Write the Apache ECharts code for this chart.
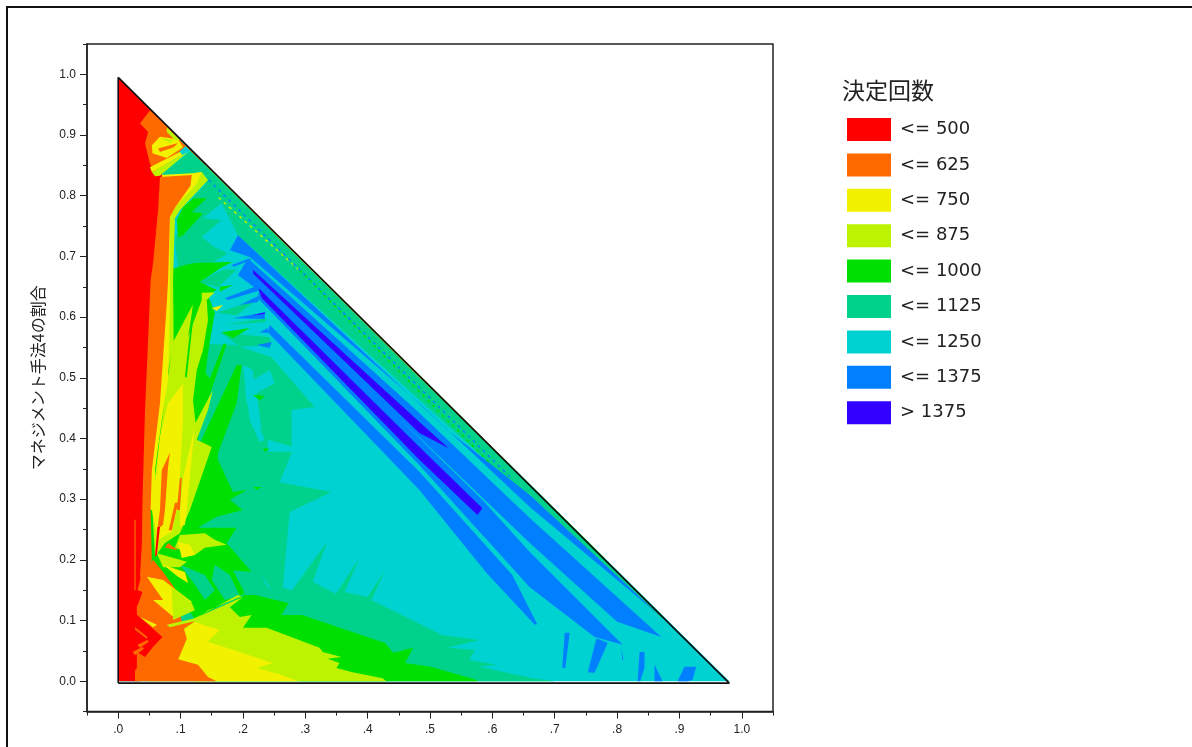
<!DOCTYPE html>
<html>
<head>
<meta charset="utf-8">
<title>決定回数</title>
<style>
    html, body { margin: 0; padding: 0; background: #fff; }
    #main { width: 1192px; height: 747px; }
</style>
<script src="https://cdn.jsdelivr.net/npm/echarts@6/dist/echarts.min.js"></script>
</head>
<body>
<div id="main"></div>
<script>
//== 等高線の凡例
var levelNames = ['<= 500', '<= 625', '<= 750', '<= 875', '<= 1000', '<= 1125', '<= 1250', '<= 1375', '> 1375'];
var levelColors = ['#ff0000', '#ff6a00', '#f2f200', '#bdf200', '#00e000', '#00d28c', '#00d2d2', '#0080ff', '#3200ff'];

//== 軸の目盛
var majorTicks = [0, 0.1, 0.2, 0.3, 0.4, 0.5, 0.6, 0.7, 0.8, 0.9, 1];
var minorTicks = [-0.05, 0.05, 0.15, 0.25, 0.35, 0.45, 0.55, 0.65, 0.75, 0.85, 0.95, 1.05];

//== 領域の外形 (手法Xの割合, 手法4の割合)
var outline = [[0, -0.003], [0, 0.995], [0.98, -0.003], [0, -0.003]];

//== 各等高線の領域 (描画順に重ねる)
var baseCyan = [[[0, 0], [0, 0.995], [0.98, 0]]];
var tealMain = [
    [[0.246, 0.534], [0.315, 0.452], [0.278, 0.447], [0.278, 0.376], [0.259, 0.328], [0.342, 0.312], [0.275, 0.279], [0.264, 0.155], [0.278, 0.149], [0.335, 0.230], [0.312, 0.164], [0.349, 0.144], [0.387, 0.203], [0.363, 0.147], [0.400, 0.139], [0.428, 0.183], [0.406, 0.134], [0.520, 0.076], [0.579, 0.068], [0.528, 0.055], [0.572, 0.052], [0.563, 0.035], [0.607, 0.027], [0.579, 0.024], [0.665, 0.005], [0.701, 0], [0.003, 0], [0.003, 0.562], [0.187, 0.554]],
    [[0.067, 0.834], [0.118, 0.875], [0.871, 0.110], [0.871, 0.104], [0.660, 0.299], [0.192, 0.735], [0.166, 0.788], [0.144, 0.818], [0.123, 0.829]],
    [[0.144, 0.823], [0.166, 0.788], [0.136, 0.763], [0.166, 0.760], [0.134, 0.732], [0.155, 0.715], [0.176, 0.705], [0.144, 0.686], [0.096, 0.678], [0.091, 0.727], [0.104, 0.760], [0.120, 0.798]],
    [[0.158, 0.607], [0.222, 0.628], [0.190, 0.603]],
    [[0.168, 0.587], [0.238, 0.598], [0.235, 0.592]],
    [[0.163, 0.575], [0.243, 0.567], [0.246, 0.554], [0.195, 0.551]],
    [[0.128, 0.658], [0.168, 0.678], [0.190, 0.678], [0.160, 0.649]]
];
var cyanPatches = [
    [[0.203, 0.488], [0.243, 0.513], [0.251, 0.491], [0.222, 0.475], [0.230, 0.414], [0.206, 0.458]],
    [[0.200, 0.521], [0.216, 0.513], [0.222, 0.431], [0.235, 0.398], [0.227, 0.394], [0.211, 0.430]],
    [[0.240, 0.398], [0.280, 0.386], [0.280, 0.378], [0.240, 0.378]]
];
var greenMain = [
    [[0.107, 0.686], [0.123, 0.689], [0.179, 0.691], [0.131, 0.658], [0.158, 0.645], [0.144, 0.636], [0.155, 0.607], [0.144, 0.541], [0.140, 0.508], [0.147, 0.499], [0.169, 0.556], [0.174, 0.556], [0.131, 0.422], [0.126, 0.381], [0.190, 0.521], [0.198, 0.521], [0.190, 0.458], [0.160, 0.376], [0.160, 0.365], [0.184, 0.312], [0.206, 0.315], [0.179, 0.299], [0.200, 0.282], [0.158, 0.271], [0.128, 0.253], [0.190, 0.253], [0.174, 0.228], [0.214, 0.180], [0.184, 0.183], [0.203, 0.145], [0.123, 0.103], [0.051, 0.200], [0.051, 0.282], [0.078, 0.628], [0.083, 0.678]],
    [[0.120, 0.796], [0.142, 0.796], [0.118, 0.773], [0.136, 0.771], [0.104, 0.735], [0.096, 0.731], [0.094, 0.760], [0.104, 0.781]],
    [[0.203, 0.142], [0.219, 0.142], [0.273, 0.129], [0.262, 0.109], [0.295, 0.109], [0.428, 0.063], [0.441, 0.047], [0.473, 0.055], [0.460, 0.030], [0.501, 0.024], [0.575, 0.002], [0.575, 0], [0.291, 0], [0.123, 0.101]],
    [[0.216, 0.472], [0.235, 0.470], [0.227, 0.463]],
    [[0.216, 0.320], [0.230, 0.320], [0.222, 0.315]],
    [[0.232, 0.384], [0.243, 0.383], [0.235, 0.378]],
    [[0.166, 0.575], [0.211, 0.582], [0.184, 0.565]],
    [[0.163, 0.689], [0.184, 0.691], [0.163, 0.681]],
    [[0.163, 0.650], [0.184, 0.653], [0.163, 0.642]]
];
var tealFan = [
    [[0.099, 0.192], [0.139, 0.175], [0.155, 0.150], [0.139, 0.134], [0.123, 0.159]],
    [[0.155, 0.192], [0.179, 0.175], [0.195, 0.141], [0.171, 0.134], [0.150, 0.167]]
];
var cyanFan = [[[0.230, 0.175], [0.248, 0.147], [0.237, 0.159]]];
var limeMain = [
    [[0.134, 0.839], [0.144, 0.826], [0.099, 0.776], [0.091, 0.763], [0.088, 0.661], [0.089, 0.554], [0.075, 0.488], [0.067, 0.628], [0.075, 0.793]],
    [[0.121, 0.623], [0.112, 0.567], [0.134, 0.628], [0.134, 0.640], [0.155, 0.641], [0.142, 0.628], [0.144, 0.595], [0.136, 0.546], [0.126, 0.513], [0.120, 0.463], [0.124, 0.426], [0.152, 0.480], [0.144, 0.447], [0.126, 0.398], [0.150, 0.386], [0.115, 0.282], [0.099, 0.244], [0.075, 0.228], [0.059, 0.205], [0.054, 0.299], [0.078, 0.488], [0.088, 0.559]],
    [[0.200, 0.139], [0.179, 0.122], [0.195, 0.106], [0.214, 0.109], [0.200, 0.088], [0.238, 0.088], [0.323, 0.055], [0.328, 0.048], [0.358, 0.040], [0.336, 0.037], [0.355, 0.030], [0.350, 0.022], [0.376, 0.015], [0.424, 0.005], [0.430, 0], [0.123, 0], [0.083, 0.085], [0.099, 0.093]],
    [[0.062, 0.211], [0.110, 0.197], [0.099, 0.188], [0.072, 0.188]],
    [[0.099, 0.241], [0.139, 0.244], [0.155, 0.233], [0.174, 0.225], [0.139, 0.220], [0.123, 0.208], [0.091, 0.220]]
];
var greenSlits = [[[0.120, 0.623], [0.123, 0.623], [0.110, 0.501], [0.107, 0.501]]];
var yellowMain = [
    [[0.118, 0.837], [0.134, 0.839], [0.126, 0.820], [0.091, 0.780], [0.083, 0.763], [0.083, 0.628], [0.080, 0.496], [0.070, 0.430], [0.059, 0.348], [0.059, 0.282], [0.051, 0.282], [0.051, 0.678], [0.067, 0.834]],
    [[0.104, 0.491], [0.080, 0.458], [0.067, 0.402], [0.062, 0.348], [0.054, 0.282], [0.064, 0.233], [0.086, 0.246], [0.094, 0.282], [0.099, 0.336], [0.104, 0.430]],
    [[0.123, 0.419], [0.118, 0.369], [0.110, 0.282], [0.107, 0.258], [0.099, 0.254], [0.099, 0.282], [0.104, 0.336]],
    [[0.123, 0.098], [0.136, 0.093], [0.163, 0.085], [0.144, 0.065], [0.248, 0.030], [0.222, 0.022], [0.264, 0.010], [0.288, 0], [0.051, 0], [0.083, 0.068]],
    [[0.150, 0.615], [0.168, 0.620], [0.158, 0.610]],
    [[0.096, 0.229], [0.115, 0.225], [0.123, 0.208], [0.102, 0.203]]
];
var redMain = [[[0, 0.995], [0.078, 0.915], [0.070, 0.830], [0.060, 0.650], [0.050, 0.450], [0.050, 0.250], [0.040, 0.170], [0.040, 0.020], [0.035, 0], [0, 0]]];
var orangeMain = [
    [[0.067, 0.831], [0.118, 0.834], [0.116, 0.817], [0.091, 0.780], [0.083, 0.765], [0.080, 0.661], [0.078, 0.623], [0.067, 0.458], [0.054, 0.348], [0.052, 0.282], [0.054, 0.200], [0.039, 0.150], [0.035, 0.174], [0.038, 0.227], [0.039, 0.299], [0.043, 0.446], [0.048, 0.562], [0.052, 0.661], [0.056, 0.689], [0.064, 0.777]],
    [[0.051, 0.941], [0.078, 0.915], [0.108, 0.882], [0.062, 0.838], [0.059, 0.834], [0.051, 0.853], [0.043, 0.886], [0.048, 0.905], [0.035, 0.919]],
    [[0.030, 0.125], [0.095, 0.125], [0.110, 0.070], [0.090, 0.020], [0.030, 0.020]],
    [[0.071, 0.088], [0.123, 0.099], [0.103, 0.085], [0.107, 0.063], [0.083, 0.040], [0.128, 0.027], [0.144, 0.007], [0.158, 0], [0.027, 0], [0.027, 0.018], [0.038, 0.030], [0.067, 0.068]],
    [[0.056, 0.200], [0.072, 0.180], [0.091, 0.153], [0.091, 0.104], [0.078, 0.093], [0.056, 0.117], [0.030, 0.122], [0.039, 0.147], [0.031, 0.150], [0.035, 0.167]],
    [[0.083, 0.377], [0.070, 0.348], [0.067, 0.282], [0.063, 0.250], [0.072, 0.258], [0.075, 0.282], [0.080, 0.353]],
    [[0.099, 0.335], [0.094, 0.282], [0.099, 0.282], [0.102, 0.335]],
    [[0.091, 0.294], [0.096, 0.294], [0.086, 0.249], [0.081, 0.249]],
    [[0.026, 0.266], [0.028, 0.266], [0.028, 0.150], [0.026, 0.150]],
    [[0.080, 0.228], [0.096, 0.216], [0.075, 0.220]]
];
var yellowUpper = [
    [[0.054, 0.883], [0.067, 0.897], [0.096, 0.893], [0.104, 0.880], [0.078, 0.862], [0.055, 0.870]],
    [[0.051, 0.847], [0.099, 0.872], [0.103, 0.867], [0.054, 0.839]],
    [[0.046, 0.172], [0.072, 0.167], [0.118, 0.131], [0.091, 0.104], [0.056, 0.134], [0.072, 0.134]],
    [[0.072, 0.192], [0.107, 0.180], [0.112, 0.162], [0.096, 0.172]]
];
var orangeUpper = [[[0.064, 0.878], [0.096, 0.887], [0.089, 0.880], [0.067, 0.872]]];
var limeUpper = [
    [[0.067, 0.895], [0.089, 0.892], [0.083, 0.887]],
    [[0.078, 0.913], [0.099, 0.892], [0.091, 0.892], [0.078, 0.905]],
    [[0.054, 0.839], [0.103, 0.867], [0.112, 0.872], [0.067, 0.833], [0.059, 0.832]],
    [[0.086, 0.155], [0.118, 0.129], [0.123, 0.117], [0.088, 0.101]],
    [[0.078, 0.093], [0.123, 0.104], [0.192, 0.142], [0.198, 0.140], [0.144, 0.117], [0.118, 0.098], [0.083, 0.089]]
];
var redSlivers = [
    [[0.022, 0.117], [0.071, 0.073], [0.056, 0.057], [0.043, 0.040], [0.024, 0.052]],
    [[0.063, 0.254], [0.059, 0.205], [0.062, 0.208], [0.067, 0.254]]
];
var orangeStreaks = [
    [[0.027, 0.089], [0.047, 0.073], [0.046, 0.070], [0.027, 0.085]],
    [[0.031, 0.060], [0.047, 0.068], [0.049, 0.065], [0.035, 0.055]],
    [[0.023, 0.048], [0.039, 0.057], [0.041, 0.053], [0.027, 0.043]]
];
var yellowStreaks = [[[0.035, 0.106], [0.062, 0.093], [0.056, 0.089]]];
var blueBands = [
    [[0.192, 0.735], [0.528, 0.414], [0.660, 0.307], [0.871, 0.106], [0.660, 0.287], [0.483, 0.458], [0.211, 0.699], [0.179, 0.710]],
    [[0.192, 0.669], [0.208, 0.697], [0.483, 0.442], [0.660, 0.269], [0.871, 0.073], [0.800, 0.098], [0.660, 0.228], [0.483, 0.402], [0.220, 0.648]],
    [[0.227, 0.656], [0.483, 0.401], [0.584, 0.299], [0.660, 0.213], [0.809, 0.060], [0.764, 0.073], [0.660, 0.155], [0.483, 0.356], [0.224, 0.631]],
    [[0.767, 0.071], [0.753, 0.015], [0.764, 0.014], [0.785, 0.063]],
    [[0.243, 0.587], [0.483, 0.345], [0.632, 0.175], [0.672, 0.094], [0.668, 0.093], [0.591, 0.178], [0.483, 0.315], [0.240, 0.575]],
    [[0.716, 0.080], [0.724, 0.080], [0.717, 0.022], [0.712, 0.022]],
    [[0.807, 0.057], [0.810, 0.035], [0.808, 0.035]],
    [[0.836, 0.048], [0.844, 0.048], [0.844, 0.022], [0.837, 0], [0.833, 0]],
    [[0.860, 0.027], [0.866, 0.015], [0.873, 0], [0.860, 0]],
    [[0.897, 0], [0.908, 0.024], [0.927, 0.024], [0.921, 0.002], [0.913, 0]],
    [[0.171, 0.631], [0.224, 0.652], [0.227, 0.644], [0.176, 0.628]],
    [[0.195, 0.620], [0.227, 0.636], [0.224, 0.625]],
    [[0.184, 0.598], [0.235, 0.608], [0.235, 0.597]],
    [[0.227, 0.575], [0.240, 0.582], [0.240, 0.574]],
    [[0.222, 0.554], [0.246, 0.559], [0.243, 0.549]],
    [[0.182, 0.686], [0.211, 0.697], [0.213, 0.694], [0.185, 0.683]]
];
var indigoBands = [
    [[0.216, 0.678], [0.483, 0.427], [0.530, 0.384], [0.483, 0.409], [0.217, 0.671]],
    [[0.225, 0.648], [0.483, 0.386], [0.584, 0.285], [0.576, 0.274], [0.483, 0.365], [0.230, 0.632]],
    [[0.216, 0.603], [0.235, 0.608], [0.235, 0.605]]
];
var edgeOrange = [[[0.108, 0.885], [0.142, 0.851], [0.139, 0.851], [0.105, 0.885]]];
var edgeYellow = [[[0.142, 0.851], [0.490, 0.4975], [0.486, 0.4975], [0.139, 0.851]]];
var edgeLime = [[[0.490, 0.4975], [0.620, 0.3655], [0.617, 0.3655], [0.486, 0.4975]]];
var edgeGreen = [[[0.620, 0.3655], [0.780, 0.203], [0.778, 0.203], [0.617, 0.3655]]];

//== 斜辺に沿う破線
var dashLime = [[0.161, 0.797], [0.291, 0.677]];
var dashGreen = [[0.291, 0.677], [0.600, 0.355]];
var dashBlue = [[0.145, 0.826], [0.629, 0.336]];

//== 描画順: [凡例の番号, 領域]
var drawOrder = [
    [6, baseCyan], [5, tealMain], [6, cyanPatches], [4, greenMain], [5, tealFan], [6, cyanFan],
    [3, limeMain], [4, greenSlits], [2, yellowMain], [0, redMain], [1, orangeMain],
    [2, yellowUpper], [1, orangeUpper], [3, limeUpper], [0, redSlivers], [1, orangeStreaks], [2, yellowStreaks]
];
var drawOrderTop = [
    [7, blueBands], [8, indigoBands],
    [1, edgeOrange], [2, edgeYellow], [3, edgeLime], [4, edgeGreen]
];
var dashOrder = [[3, dashLime], [4, dashGreen], [7, dashBlue]];

var myChart = echarts.init(document.getElementById('main'));

/**
 * 等高線の領域を描く
 *
 * @param level {number} 凡例の番号
 * @param shapes {array} 領域の配列
 */
var bandSeries = function (level, shapes) {
    return {
        type: 'custom',
        name: levelNames[level],
        coordinateSystem: 'cartesian2d',
        itemStyle: {color: levelColors[level]},
        silent: true,
        data: shapes.map(function (s, i) { return [i]; }),
        renderItem: function (params, api) {
            var points = shapes[api.value(0)].map(function (p) { return api.coord(p); });
            return {type: 'polygon', shape: {points: points}, style: {fill: levelColors[level]}};
        }
    };
};

/**
 * 破線を描く
 *
 * @param level {number} 凡例の番号
 * @param line {array} 線の端点
 */
var dashSeries = function (level, line) {
    return {
        type: 'custom',
        name: levelNames[level],
        coordinateSystem: 'cartesian2d',
        itemStyle: {color: levelColors[level]},
        silent: true,
        data: [[0]],
        renderItem: function (params, api) {
            var points = line.map(function (p) { return api.coord(p); });
            return {
                type: 'polyline',
                shape: {points: points},
                style: {fill: 'none', stroke: levelColors[level], lineWidth: 1.5, lineDash: [3, 4]}
            };
        }
    };
};

var axisColor = '#222';
var tickText = {color: '#222', fontFamily: 'Liberation Sans', fontSize: 12};
var series = drawOrder.map(function (d) { return bandSeries(d[0], d[1]); })
    .concat(dashOrder.map(function (d) { return dashSeries(d[0], d[1]); }))
    .concat(drawOrderTop.map(function (d) { return bandSeries(d[0], d[1]); }));
series.push({
    type: 'line',
    name: 'outline',
    data: outline,
    symbol: 'none',
    silent: true,
    z: 5,
    lineStyle: {color: '#111', width: 1.6}
});

var option = {
    animation: false,
    backgroundColor: '#fff',
    title: {
        text: '決定回数',
        left: 842,
        top: 79,
        padding: 0,
        textStyle: {color: '#222', fontFamily: 'Noto Sans CJK JP', fontSize: 23, fontWeight: 'normal'}
    },
    legend: {
        orient: 'vertical',
        left: 847,
        top: 118,
        padding: 0,
        icon: 'rect',
        itemWidth: 44,
        itemHeight: 23,
        itemGap: 12.4,
        selectedMode: false,
        data: levelNames,
        textStyle: {color: '#222', fontFamily: 'DejaVu Sans', fontSize: 18, padding: [5, 0, 0, 4]}
    },
    grid: {left: 87, top: 44, width: 686, height: 667.6, show: true, borderColor: axisColor, borderWidth: 1.5, backgroundColor: '#fff'},
    xAxis: [{
        type: 'value',
        min: -0.05,
        max: 1.05,
        position: 'bottom',
        splitLine: {show: false},
        axisLine: {onZero: false, lineStyle: {color: axisColor, width: 1.5}},
        axisTick: {show: true, length: 7, customValues: majorTicks, lineStyle: {color: axisColor}},
        axisLabel: Object.assign({
            customValues: majorTicks,
            margin: 12,
            formatter: function (v) { return v === 1 ? '1.0' : v.toFixed(1).slice(1); }
        }, tickText)
    }, {
        type: 'value',
        min: -0.05,
        max: 1.05,
        position: 'bottom',
        splitLine: {show: false},
        axisLine: {show: false, onZero: false},
        axisTick: {show: true, length: 4, customValues: minorTicks, lineStyle: {color: axisColor}},
        axisLabel: {show: false}
    }],
    yAxis: [{
        type: 'value',
        min: -0.05,
        max: 1.05,
        position: 'left',
        name: 'マネジメント手法4の割合',
        nameLocation: 'middle',
        nameGap: 41,
        nameTextStyle: {color: '#222', fontFamily: 'Noto Sans CJK JP', fontSize: 16},
        splitLine: {show: false},
        axisLine: {onZero: false, lineStyle: {color: axisColor, width: 1.5}},
        axisTick: {show: true, length: 7, customValues: majorTicks, lineStyle: {color: axisColor}},
        axisLabel: Object.assign({
            customValues: majorTicks,
            margin: 11,
            formatter: function (v) { return v.toFixed(1); }
        }, tickText)
    }, {
        type: 'value',
        min: -0.05,
        max: 1.05,
        position: 'left',
        splitLine: {show: false},
        axisLine: {show: false, onZero: false},
        axisTick: {show: true, length: 4, customValues: minorTicks, lineStyle: {color: axisColor}},
        axisLabel: {show: false}
    }],
    graphic: [{
        type: 'rect',
        silent: true,
        shape: {x: 7, y: 7, width: 1300, height: 900},
        style: {fill: 'none', stroke: '#111', lineWidth: 2}
    }],
    series: series
};
if (option && typeof option === "object") {
    myChart.setOption(option, true);
}
</script>
</body>
</html>
